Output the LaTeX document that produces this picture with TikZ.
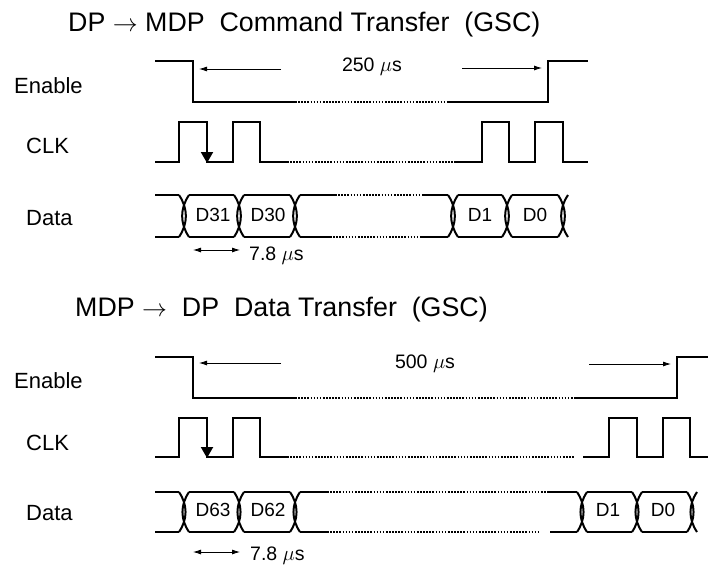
\documentclass[tikz,border=0pt]{standalone}
\usepackage{fontspec}
\setmainfont{Liberation Sans}
\usetikzlibrary{arrows.meta}

\tikzset{
  sig/.style={line width=2pt,line join=miter},
  dotsig/.style={line width=2pt,dash pattern=on 1.6pt off 1.5pt},
  thinarr/.style={line width=0.8pt,-{Latex[length=8pt,width=5pt]}},
  dblarr/.style={line width=0.8pt,{Latex[length=8pt,width=5pt]}-{Latex[length=8pt,width=5pt]}},
  clkarr/.style={line width=2pt,-{Triangle[length=11pt,width=12pt]}},
  lpar/.style={out=-56,in=56},
  rpar/.style={out=-124,in=124},
  ttl/.style={anchor=base west,inner sep=0pt,font=\fontsize{26.8}{32}\selectfont},
  lbl/.style={anchor=base west,inner sep=0pt,font=\fontsize{22}{26}\selectfont},
  cell/.style={font=\fontsize{19}{23}\selectfont},
  tim/.style={anchor=base,inner sep=0pt,font=\fontsize{19.5}{23}\selectfont}
}

\begin{document}
\begin{tikzpicture}[x=1pt,y=-1pt]
	\useasboundingbox (0,0) rectangle (708,567);
	
	%Command transfer (top)
	\node[ttl] (title1) at (68,31.7) {DP $\rightarrow$ MDP\ \ Command Transfer\ \ (GSC)};
	\node[lbl] (en1) at (14,93.3) {Enable};
	\node[lbl] (clk1) at (26,153.3) {CLK};
	\node[lbl] (dat1) at (26,225) {Data};
	
	%Enable
	\draw[sig] (155,61)--(193,61)--(193,102)--(295,102);
	\draw[dotsig] (295,102)--(448,102);
	\draw[sig] (448,102)--(548,102)--(548,61)--(588,61);
	\node[tim] (t250) at (372,72) {250 $\mu$s};
	\coordinate (a1l) at (281,69); \coordinate (a1le) at (199,69);
	\coordinate (a1r) at (462,68); \coordinate (a1re) at (542,68);
	\draw[thinarr] (a1l)--(a1le);
	\draw[thinarr] (a1r)--(a1re);
	
	%CLK
	\draw[sig] (155,162)--(179,162)--(179,122)--(207,122)--(207,162)--(233,162)--(233,122)--(260,122)--(260,162)--(287,162);
	\draw[dotsig] (287,162)--(455,162);
	\draw[sig] (455,162)--(482,162)--(482,122)--(509,122)--(509,162)--(535,162)--(535,122)--(563,122)--(563,162)--(588,162);
	\draw[clkarr] (207,128)--(207,163);
	
	%Data
	\draw[sig] (155,195)--(179,195) (155,237)--(179,237);
	\draw[sig] (189,195)--(234,195) (189,237)--(234,237);
	\draw[sig] (244,195)--(290,195) (244,237)--(290,237);
	\draw[sig] (300,195)--(335,195) (300,237)--(330,237);
	\draw[dotsig] (335,195)--(423,195) (330,237)--(420,237);
	\draw[sig] (423,195)--(448,195) (420,237)--(448,237);
	\draw[sig] (458,195)--(502,195) (458,237)--(502,237);
	\draw[sig] (512,195)--(558,195) (512,237)--(558,237);
	\draw[sig] (179,195) to[lpar] (179,237) (189,195) to[rpar] (189,237);
	\draw[sig] (234,195) to[lpar] (234,237) (244,195) to[rpar] (244,237);
	\draw[sig] (290,195) to[lpar] (290,237) (300,195) to[rpar] (300,237);
	\draw[sig] (448,195) to[lpar] (448,237) (458,195) to[rpar] (458,237);
	\draw[sig] (502,195) to[lpar] (502,237) (512,195) to[rpar] (512,237);
	\draw[sig] (558,195) to[lpar] (558,237) (568,195) to[rpar] (568,237);
	\node[cell] (d31) at (213,215) {D31};
	\node[cell] (d30) at (268,215) {D30};
	\node[cell] (d1a) at (480,215) {D1};
	\node[cell] (d0a) at (535,215) {D0};
	
	%7.8 us
	\coordinate (b1l) at (193,250); \coordinate (b1r) at (240,250);
	\draw[dblarr] (b1l)--(b1r);
	\node[tim,anchor=base west] (t78a) at (249,260) {7.8 $\mu$s};
	
	%Data transfer (bottom)
	\node[ttl] (title2) at (75,316.7) {MDP $\rightarrow$\ \ DP\ \ Data Transfer\ \ (GSC)};
	\node[lbl] (en2) at (14,388.3) {Enable};
	\node[lbl] (clk2) at (26,450) {CLK};
	\node[lbl] (dat2) at (26,520) {Data};
	
	%Enable
	\draw[sig] (155,357)--(193,357)--(193,398)--(295,398);
	\draw[dotsig] (295,398)--(575,398);
	\draw[sig] (575,398)--(677,398)--(677,357)--(708,357);
	\node[tim] (t500) at (425,368) {500 $\mu$s};
	\coordinate (a2l) at (281,363); \coordinate (a2le) at (199,363);
	\coordinate (a2r) at (589,364); \coordinate (a2re) at (671,364);
	\draw[thinarr] (a2l)--(a2le);
	\draw[thinarr] (a2r)--(a2re);
	
	%CLK
	\draw[sig] (155,457)--(179,457)--(179,418)--(207,418)--(207,457)--(233,457)--(233,418)--(260,418)--(260,457)--(287,457);
	\draw[dotsig] (287,457)--(575,457);
	\draw[sig] (583,457)--(609,457)--(609,418)--(637,418)--(637,457)--(663,457)--(663,418)--(690,418)--(690,457)--(708,457);
	\draw[clkarr] (207,424)--(207,458);
	
	%Data
	\draw[sig] (155,492)--(179,492) (155,532)--(179,532);
	\draw[sig] (189,492)--(234,492) (189,532)--(234,532);
	\draw[sig] (244,492)--(290,492) (244,532)--(290,532);
	\draw[sig] (300,492)--(327,492) (300,532)--(327,532);
	\draw[dotsig] (327,492)--(547,492) (327,532)--(540,532);
	\draw[sig] (547,492)--(577,492) (550,532)--(577,532);
	\draw[sig] (587,492)--(632,492) (587,532)--(632,532);
	\draw[sig] (642,492)--(687,492) (642,532)--(687,532);
	\draw[sig] (179,492) to[lpar] (179,532) (189,492) to[rpar] (189,532);
	\draw[sig] (234,492) to[lpar] (234,532) (244,492) to[rpar] (244,532);
	\draw[sig] (290,492) to[lpar] (290,532) (300,492) to[rpar] (300,532);
	\draw[sig] (577,492) to[lpar] (577,532) (587,492) to[rpar] (587,532);
	\draw[sig] (632,492) to[lpar] (632,532) (642,492) to[rpar] (642,532);
	\draw[sig] (687,492) to[lpar] (687,532) (697,492) to[rpar] (697,532);
	\node[cell] (d63) at (213,510) {D63};
	\node[cell] (d62) at (268,510) {D62};
	\node[cell] (d1b) at (608,510) {D1};
	\node[cell] (d0b) at (663,510) {D0};
	
	%7.8 us
	\coordinate (b2l) at (193,552); \coordinate (b2r) at (240,552);
	\draw[dblarr] (b2l)--(b2r);
	\node[tim,anchor=base west] (t78b) at (250,560) {7.8 $\mu$s};
\end{tikzpicture}
\end{document}
